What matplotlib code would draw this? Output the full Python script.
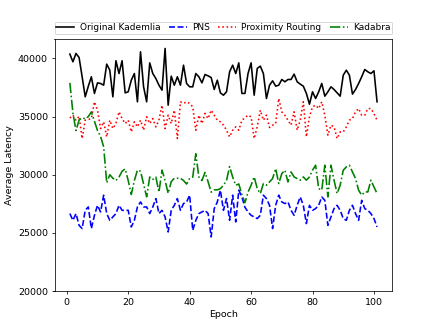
import matplotlib
matplotlib.use("Agg")
import matplotlib.pyplot as plt
import numpy as np

epochs = list(range(1, 102))

kademlia = [40370, 39710, 40430, 40080, 38420, 36700, 37600, 38420, 36990, 37900,
            37845, 37700, 39510, 38990, 36700, 39800, 38700, 39800, 37040, 37130,
            38130, 38700, 36270, 40570, 37560, 36270, 39620, 38700, 38270, 37700,
            37270, 40860, 35980, 38475, 37700, 38420, 37700, 39420, 37845, 37560,
            37560, 38700, 38420, 37900, 38620, 38500, 38360, 37330, 38130, 37040,
            36840, 37130, 38850, 39420, 38700, 39620, 36990, 36990, 38700, 39620,
            36840, 39140, 39340, 38700, 36555, 37700, 38075, 37615, 37700, 38190,
            37990, 38190, 38190, 38650, 37990, 37790, 37615, 36990, 36065, 37130,
            36555, 37130, 37845, 36755, 37130, 37560, 37330, 37040, 36755, 38560,
            38990, 38560, 36930, 37330, 37845, 38420, 39050, 38850, 38700, 38935,
            36270]

pns = [26660, 26080, 26660, 25650, 25370, 26940, 27230, 25370, 26500, 27370,
       26800, 28240, 26660, 26080, 26370, 26660, 27370, 26940, 26940, 26940,
       25510, 26080, 27230, 27660, 27230, 27230, 26660, 27230, 27950, 26660,
       26940, 26370, 25080, 26940, 27370, 27950, 26940, 27520, 27660, 28240,
       25220, 26080, 26660, 26800, 26940, 26660, 24650, 27090, 27660, 28670,
       26940, 27950, 26080, 28240, 25940, 28670, 28090, 27200, 26800, 26510,
       26370, 26230, 26510, 28240, 27950, 27370, 25370, 27370, 28240, 27660,
       27520, 27660, 26940, 26510, 27370, 28090, 27370, 25800, 27370, 26940,
       27090, 27370, 28090, 27800, 25650, 26370, 27090, 27370, 26940, 26230,
       26080, 26940, 27370, 26660, 26080, 27800, 27090, 26940, 26660, 26230,
       25510]

proximity = [34880, 35120, 34690, 35030, 33110, 34690, 34750, 34830, 36270, 35550,
             33970, 34550, 33255, 34690, 33970, 34400, 35410, 34830, 34400, 34690,
             33680, 34550, 34115, 34690, 33830, 34980, 34400, 34830, 34115, 34690,
             35980, 33970, 35120, 34400, 35550, 33110, 36270, 36130, 36270, 36130,
             35840, 33830, 35120, 34400, 35270, 34830, 35550, 35120, 34690, 34550,
             34260, 33830, 33255, 33830, 34115, 33830, 34690, 34900, 35120, 34980,
             33110, 34115, 35550, 34690, 35120, 34060, 34260, 34400, 36555, 35410,
             35120, 34690, 34260, 35410, 33830, 34690, 36270, 33255, 34980, 35840,
             35980, 35690, 36270, 35120, 33400, 34260, 34115, 33110, 33680, 33680,
             34115, 34690, 34830, 35410, 35690, 35120, 35120, 35690, 35690, 35260,
             34690]

kadabra = [37900, 35300, 33800, 34700, 34900, 34800, 35000, 35400, 34600, 33800,
           33300, 32400, 29300, 30000, 29700, 29500, 29800, 30300, 30500, 29500,
           28300, 29500, 30400, 30300, 29200, 28100, 29800, 29600, 29800, 28500,
           30400, 29500, 28400, 29400, 29700, 29700, 29700, 29500, 29200, 29700,
           29800, 31800, 29800, 29500, 30200, 29400, 28500, 28700, 28700, 28800,
           29100, 29500, 30700, 29800, 29100, 29200, 28300, 27600, 28500, 29100,
           29810, 28810, 28380, 29240, 29100, 29380, 29670, 30530, 29240, 30100,
           30390, 29380, 30240, 29810, 29670, 29530, 29810, 29530, 29810, 30390,
           30820, 28810, 28670, 30820, 28090, 30820, 29530, 28380, 29100, 30390,
           30670, 30820, 30240, 29670, 28670, 28240, 28520, 28520, 29530, 28950,
           28380]

labels = ["Original Kademlia", "PNS", "Proximity Routing", "Kadabra"]
yticks = [20000, 25000, 30000, 35000, 40000]
xticks = [0, 20, 40, 60, 80, 100]

fig, ax = plt.subplots(figsize=(6.4, 4.8), dpi=68.125)
ax.plot(epochs, kademlia, color="k", linestyle="-", linewidth=1.7, label=labels[0])
ax.plot(epochs, pns, color="b", linestyle="--", linewidth=1.7, label=labels[1])
ax.plot(epochs, proximity, color="r", linestyle=":", linewidth=1.7, label=labels[2])
ax.plot(epochs, kadabra, color="g", linestyle="-.", linewidth=1.7, label=labels[3])

ax.set_ylim(20000, 41650)
ax.set_yticks(yticks)
ax.set_xticks(xticks)
ax.set_xlabel("Epoch")
ax.set_ylabel("Average Latency")
ax.legend(loc="lower left", bbox_to_anchor=(0, 1.02, 1, 0.2), mode="expand",
          ncol=4, fontsize=9.5, borderaxespad=0, borderpad=0.2,
          handletextpad=0.6, handlelength=2.0)
fig.savefig("out.png", dpi=68.125)
